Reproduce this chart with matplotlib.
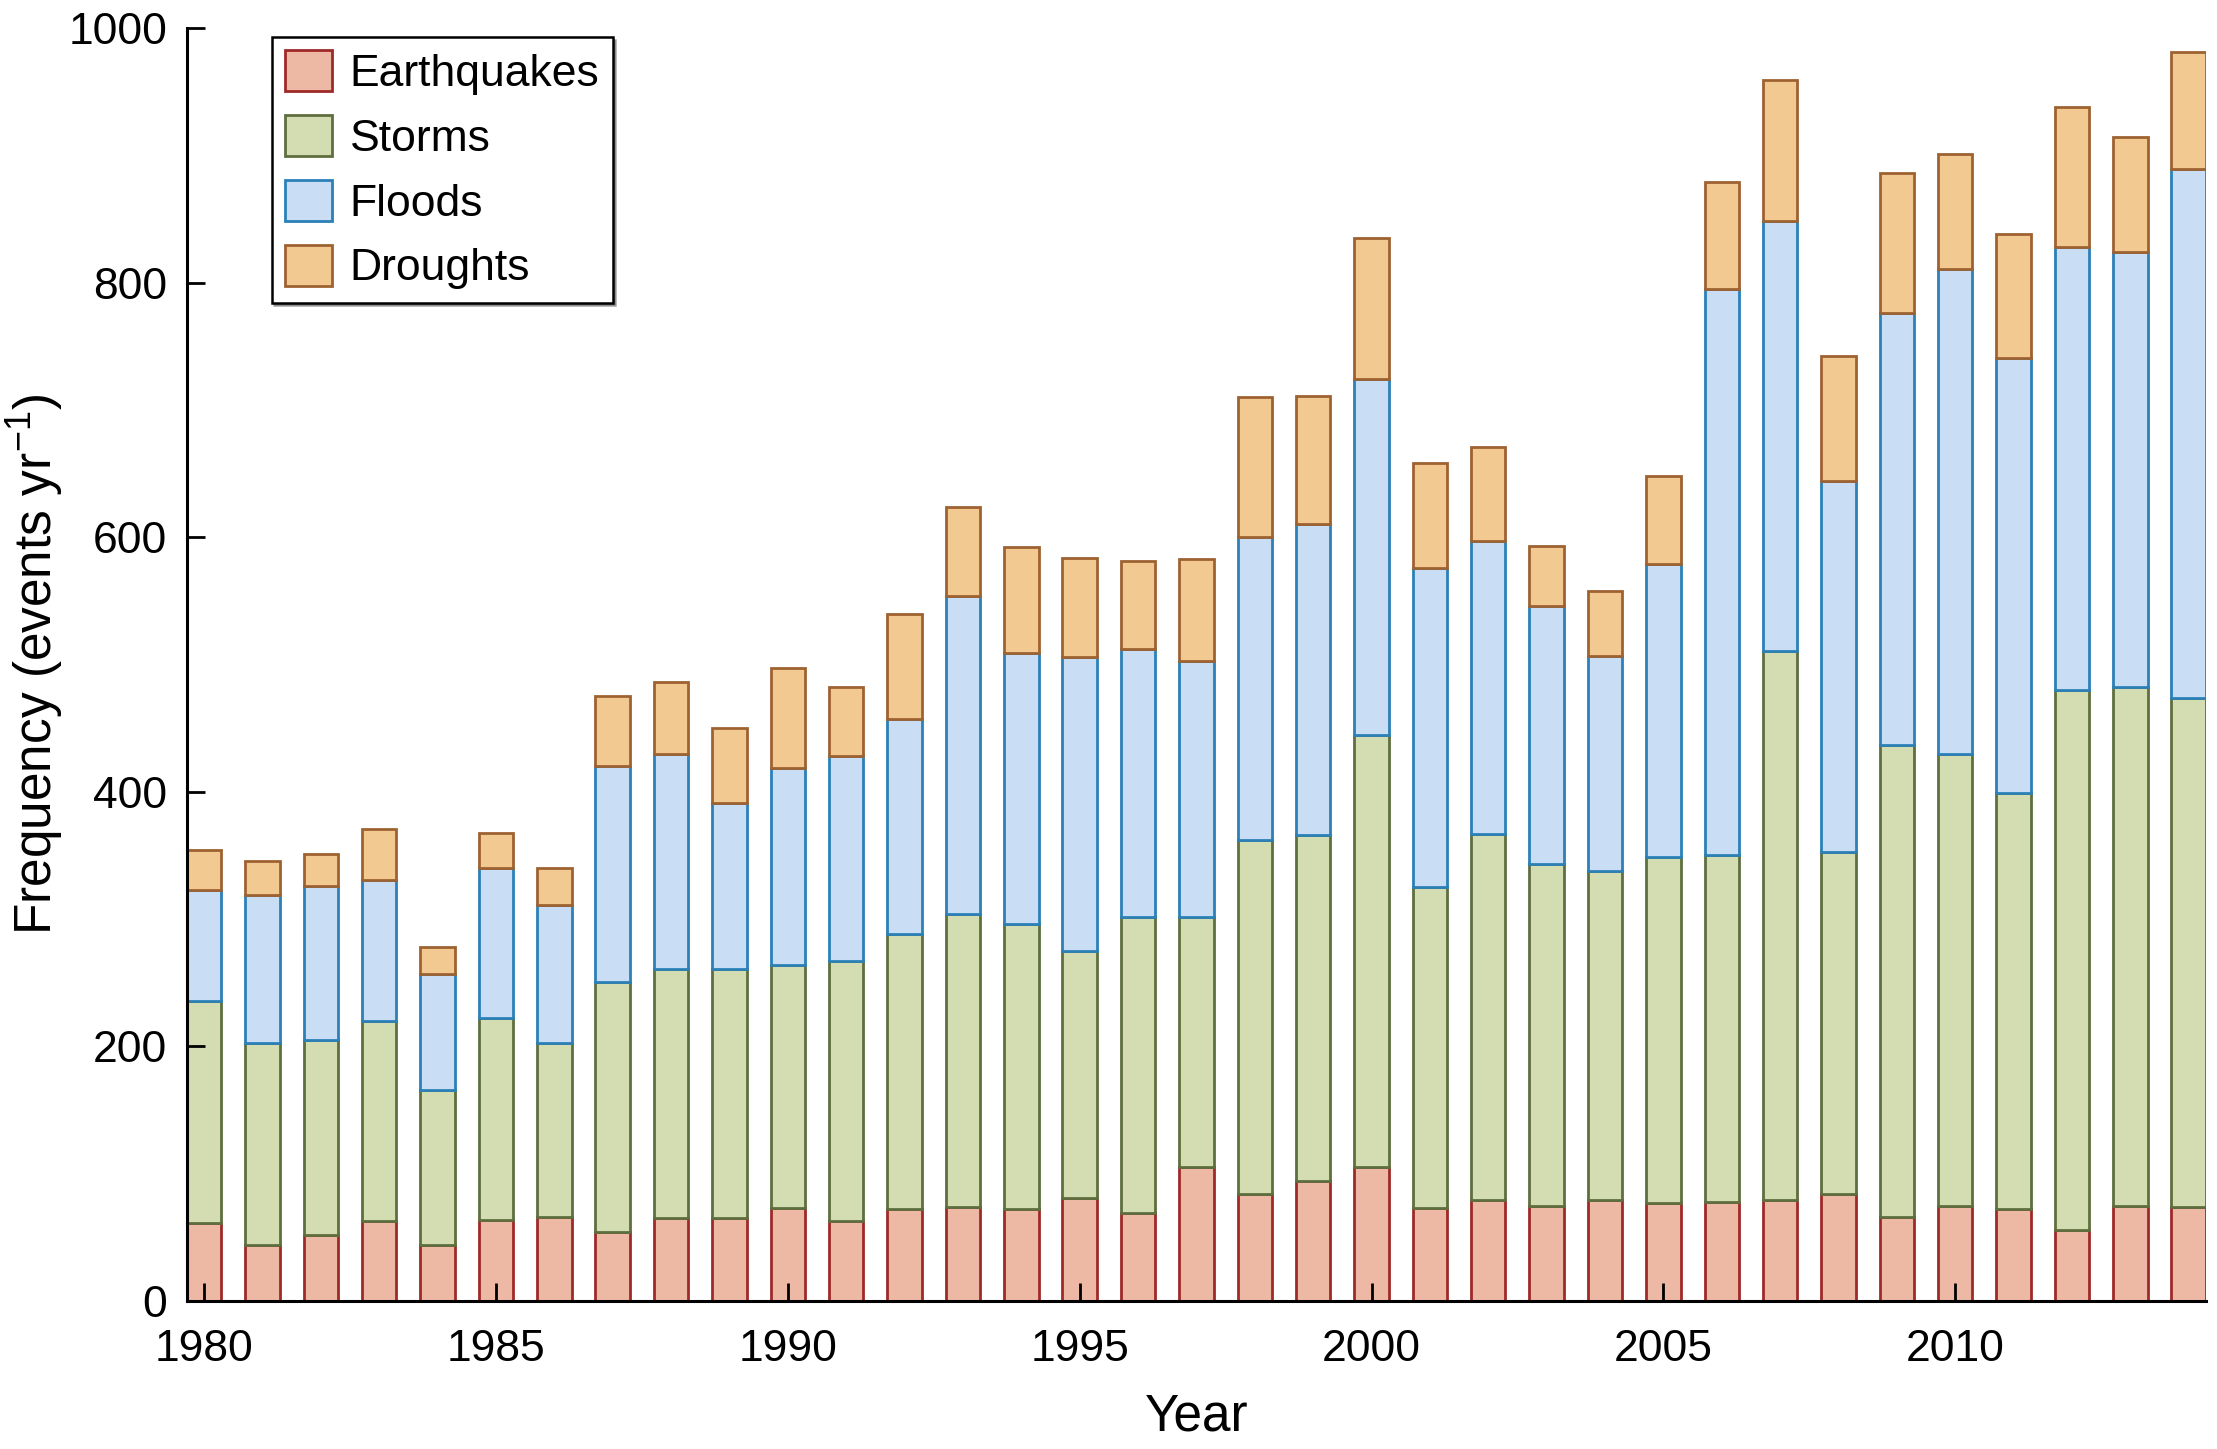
import matplotlib.pyplot as plt
import numpy as np

plt.rcParams['font.family'] = ['Liberation Sans', 'DejaVu Sans']
plt.rcParams['mathtext.fontset'] = 'custom'
plt.rcParams['mathtext.rm'] = 'Liberation Sans'
plt.rcParams['mathtext.it'] = 'Liberation Sans:italic'

# Events per year
years = np.arange(1980, 2015)
earthquakes = [61, 44, 52, 63, 44, 64, 66, 54, 65, 65, 73, 63, 72, 74, 72, 81, 69, 105,
               84, 94, 105, 73, 79, 75, 79, 77, 78, 79, 84, 66, 75, 72, 56, 75, 74]
storms = [175, 159, 153, 157, 122, 158, 137, 197, 196, 196, 191, 204, 216, 230, 224, 194,
          233, 197, 278, 272, 340, 252, 288, 268, 259, 272, 272, 432, 269, 371, 355, 327,
          424, 407, 400]
floods = [87, 116, 121, 111, 91, 118, 108, 169, 169, 130, 155, 161, 169, 250, 213, 231,
          210, 201, 238, 244, 279, 251, 230, 203, 169, 230, 445, 337, 291, 339, 381, 342,
          348, 342, 415]
droughts = [31, 27, 25, 40, 21, 28, 29, 55, 56, 59, 78, 54, 83, 70, 83, 78, 69, 80, 110,
            101, 111, 82, 74, 47, 51, 69, 84, 111, 98, 110, 90, 97, 110, 90, 92]

series = [
    ('Earthquakes', earthquakes, '#EDB9A5', '#9E2A28'),
    ('Storms', storms, '#D3DDB1', '#5E6F3E'),
    ('Floods', floods, '#C9DDF5', '#2C80B8'),
    ('Droughts', droughts, '#F2CA91', '#9E6230'),
]

bar_width = 0.59

fig = plt.figure(figsize=(22.17, 14.49), dpi=100)
ax = fig.add_axes([0.0843, 0.1021, 0.9107, 0.8786])

bottom = np.zeros(len(years))
for name, vals, fill, edge in series:
    vals = np.array(vals)
    ax.bar(years, vals, bottom=bottom, width=bar_width, color=fill,
           edgecolor=edge, linewidth=2.0, label=name)
    bottom += vals

ax.set_xlim(years[0] - bar_width / 2, years[-1] + bar_width / 2)
ax.set_ylim(0, 1000)
ax.set_xticks(np.arange(1980, 2011, 5))
ax.set_yticks(np.arange(0, 1001, 200))

for side in ['top', 'right']:
    ax.spines[side].set_visible(False)
for side in ['left', 'bottom']:
    ax.spines[side].set_linewidth(2.2)

ax.tick_params(direction='in', length=13, width=2.0, labelsize=32)
ax.tick_params(axis='x', pad=20)
ax.tick_params(axis='y', pad=14)

ax.set_xlabel('Year', fontsize=37, labelpad=16)
ax.set_ylabel('Frequency (events yr$^{-1}$)', fontsize=37, labelpad=2)

leg = ax.legend(loc='upper left', bbox_to_anchor=(0.042, 0.993), borderaxespad=0,
                fontsize=32, frameon=True, fancybox=False, shadow=True,
                handlelength=1.05, handleheight=1.05, handletextpad=0.4,
                labelspacing=0.45, borderpad=0.3)
leg.get_frame().set_edgecolor('black')
leg.get_frame().set_linewidth(1.8)

fig.savefig('out.png', dpi=100)
